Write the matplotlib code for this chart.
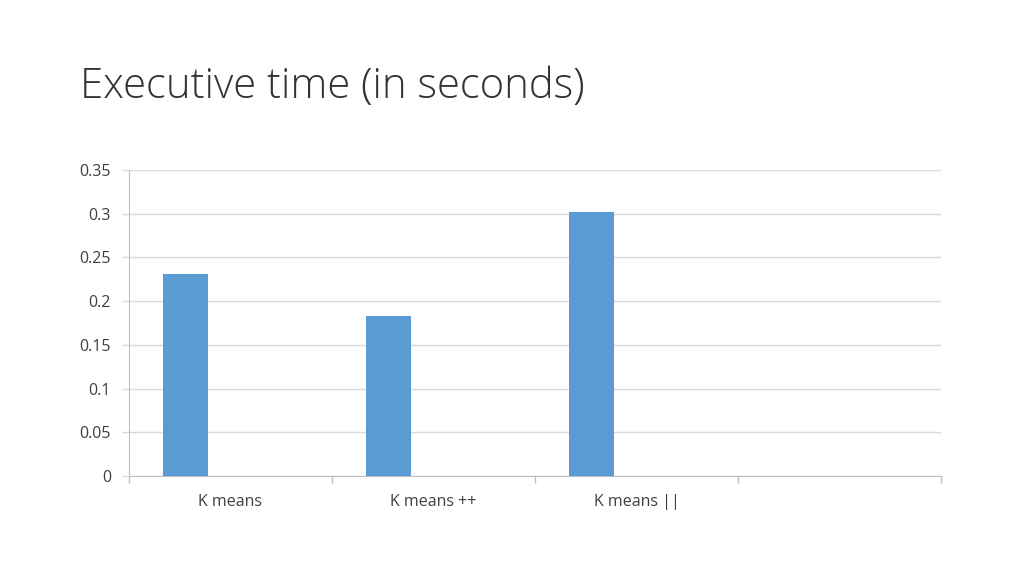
import matplotlib.pyplot as plt
import numpy as np

categories = ["K means", "K means ++", "K means ||", ""]
times = [0.231, 0.183, 0.302, np.nan]
y_ticks = [0, 0.05, 0.1, 0.15, 0.2, 0.25, 0.3, 0.35]
y_labels = ["0", "0.05", "0.1", "0.15", "0.2", "0.25", "0.3", "0.35"]

plt.rcParams['font.family'] = ['Open Sans', 'DejaVu Sans']

fig = plt.figure(figsize=(10.24, 5.76), dpi=100)
ax = fig.add_axes([129 / 1024, 1 - 476 / 576, (941 - 129) / 1024, (476 - 170) / 576])

# clustered layout: first of three series, gap width 150%
n_series, gap = 3, 1.5
bw = 1 / (n_series + gap)
x = np.arange(len(categories))
offset = -0.5 + gap / 2 * bw + bw / 2
ax.bar(x + offset, times, width=bw, color='#5B9BD5', zorder=3)

ax.set_xlim(-0.5, len(categories) - 0.5)
ax.set_ylim(0, 0.35)
ax.set_yticks(y_ticks)
ax.set_yticklabels(y_labels, fontsize=11.5, color='#404040')
ax.yaxis.grid(True, color='#d9d9d9', linewidth=1, zorder=0)

ax.set_xticks(x)
ax.set_xticklabels(categories, fontsize=11.5, color='#404040')
ax.set_xticks(np.arange(len(categories) + 1) - 0.5, minor=True)
ax.tick_params(axis='x', which='major', length=0, pad=13)
ax.tick_params(axis='x', which='minor', length=5, color='#bfbfbf', width=1)
ax.tick_params(axis='y', length=5, color='#d9d9d9', width=1, pad=8)

for s in ['top', 'right']:
    ax.spines[s].set_visible(False)
ax.spines['left'].set_color('#bfbfbf')
ax.spines['bottom'].set_color('#bfbfbf')

fig.text(80 / 1024, 1 - 87 / 576, "Executive time (in seconds)", fontsize=30.2,
         color='#333333', ha='left', va='center', fontweight='light')

fig.savefig("out.png", dpi=100)
